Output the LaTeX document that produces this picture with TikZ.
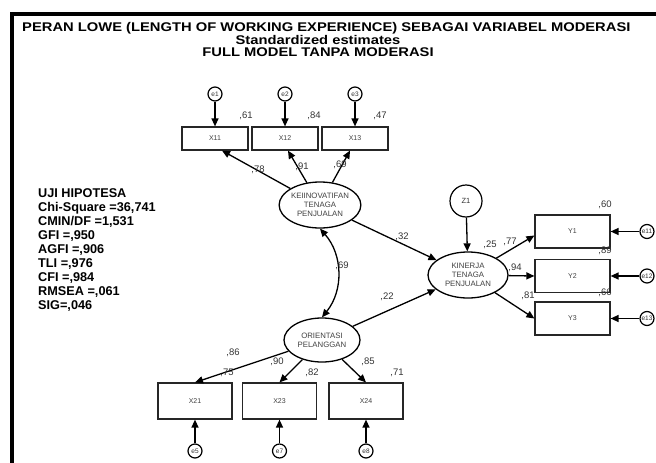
\documentclass[tikz,border=0pt]{standalone}
\usepackage{fontspec}
\setmainfont{Liberation Sans}
\usetikzlibrary{arrows.meta,shapes.geometric}
\newcommand\lebar[1]{\scalebox{1.17}[1]{#1}}
\tikzset{
 judul/.style={font=\bfseries\fontsize{12.6}{13}\selectfont,inner sep=0pt},
 uji/.style={font=\bfseries\fontsize{12.7}{14}\selectfont,inner sep=0pt,align=left,anchor=north west},
 obs/.style={draw=black!85,line width=1.2pt,inner sep=0pt,text=black!75,font=\fontsize{7}{8}\selectfont},
 lat/.style={ellipse,draw,line width=1.3pt,inner sep=0pt,minimum width=80pt,minimum height=46pt,align=center,text=black!75,font=\fontsize{7.8}{9}\selectfont},
 err/.style={circle,draw,line width=1.2pt,inner sep=0pt,minimum size=14pt,text=black!80,font=\fontsize{6.5}{7}\selectfont},
 est/.style={inner sep=0pt,text=black!80,font=\fontsize{9.5}{10}\selectfont},
 jalur/.style={->,line width=1.3pt}
}
\begin{document}
\begin{tikzpicture}[>={Triangle[length=8pt,width=7pt]},x=1pt,y=-1pt]
 \useasboundingbox (0,0) rectangle (656,463);
 \draw[line width=4pt] (11.5,463)--(11.5,13.5)--(656,13.5);
 % judul
 \node[judul,anchor=west] (t1) at (22,28) {\lebar{PERAN LOWE (LENGTH OF WORKING EXPERIENCE) SEBAGAI VARIABEL MODERASI}};
 \node[judul] (t2) at (318,40) {\lebar{Standardized estimates}};
 \node[judul] (t3) at (318,52) {\lebar{FULL MODEL TANPA MODERASI}};
 % uji hipotesa
 \node[uji] (hip) at (38,188.5) {UJI HIPOTESA\\Chi-Square =36,741\\CMIN/DF =1,531\\GFI =,950\\AGFI =,906\\TLI =,976\\CFI =,984\\RMSEA =,061\\SIG=,046};
 % variabel laten
 \node[lat] (kein) at (320,205) {KEIINOVATIFAN\\TENAGA\\PENJUALAN};
 \node[lat,minimum width=76pt,minimum height=44pt] (ori) at (322,340) {ORIENTASI\\PELANGGAN};
 \node[lat] (kin) at (468,275) {KINERJA\\TENAGA\\PENJUALAN};
 \node[err,minimum size=32pt,font=\fontsize{7.5}{8}\selectfont] (z1) at (466,201) {Z1};
 % indikator atas
 \foreach \n/\x in {1/215,2/285,3/355}{
  \node[obs,minimum width=66pt,minimum height=23pt] (x1\n) at (\x,138.5) {X1\n};
  \node[err] (e\n) at (\x,94) {e\n};
  \draw[jalur] (e\n)--(x1\n);
 }
 % indikator bawah
 \foreach \n/\x/\e in {1/195/5,3/279.5/7,4/366/8}{
  \node[obs,minimum width=74pt,minimum height=36pt] (x2\n) at (\x,401) {X2\n};
  \node[err] (e\e) at (\x,451) {e\e};
  \draw[jalur] (e\e)--(x2\n);
 }
 % indikator kinerja
 \foreach \n/\y/\e in {1/231.5/11,2/276/12,3/318.5/13}{
  \node[obs,minimum width=75pt,minimum height=33pt] (y\n) at (572.5,\y) {Y\n};
  \node[err] (e\e) at (647,\y) {e\e};
  \draw[jalur] (e\e)--(y\n);
 }
 % jalur
 \draw[jalur] (kein)--([xshift=7pt]x11.south);
 \draw[jalur] (kein)--([xshift=3pt]x12.south);
 \draw[jalur] (kein)--([xshift=-5pt]x13.south);
 \draw[jalur] (ori)--(x21.north);
 \draw[jalur] (ori)--(x23.north);
 \draw[jalur] (ori)--(x24.north);
 \draw[jalur] (kin)--([yshift=-4pt]y1.west);
 \draw[jalur] (kin)--(y2.west);
 \draw[jalur] (kin)--(y3.west);
 \draw[jalur] (z1)--(kin);
 \draw[jalur] (kein)--(kin);
 \draw[jalur] (ori)--(kin);
 \draw[jalur,<->] (kein.south) to[bend left=40] (ori.north);
 % estimasi
 \node[est] (r11) at (246,116) {,61};
 \node[est] (r12) at (314,116) {,84};
 \node[est] (r13) at (380,116) {,47};
 \node[est] (l11) at (258,170) {,78};
 \node[est] (l12) at (302,167) {,91};
 \node[est] (l13) at (340,165) {,69};
 \node[est] (b1) at (402,237) {,32};
 \node[est] (kor) at (342,266) {,69};
 \node[est] (b2) at (387,297) {,22};
 \node[est] (rk) at (490,245) {,25};
 \node[est] (ly1) at (510,242) {,77};
 \node[est] (ly2) at (515,268) {,94};
 \node[est] (ly3) at (528,296) {,81};
 \node[est] (ry1) at (605,205) {,60};
 \node[est] (ry2) at (605,251) {,89};
 \node[est] (ry3) at (605,293) {,66};
 \node[est] (l21) at (233,353) {,86};
 \node[est] (r21) at (227,373) {,75};
 \node[est] (l23) at (277,362) {,90};
 \node[est] (r23) at (312,373) {,82};
 \node[est] (l24) at (368,362) {,85};
 \node[est] (r24) at (397,373) {,71};
\end{tikzpicture}
\end{document}
